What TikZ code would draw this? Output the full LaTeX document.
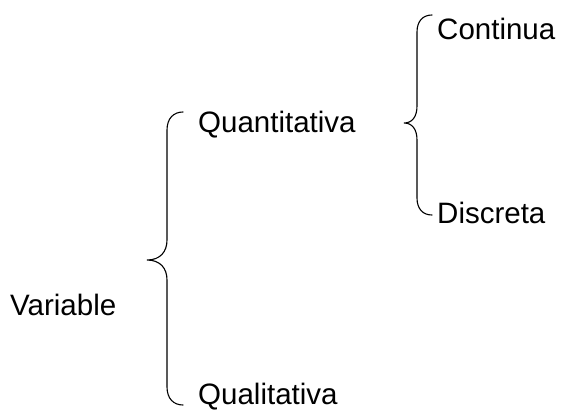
\documentclass[tikz,border=0pt]{standalone}
\usepackage{fontspec}
\setmainfont{Liberation Sans}
\begin{document}
\begin{tikzpicture}[x=1pt,y=-1pt,
  lbl/.style={anchor=west,inner sep=0pt,font=\fontsize{29.5}{30}\selectfont},
  brace/.style={line width=1.1pt,line cap=round}]
\useasboundingbox (0,0) rectangle (567,410);
\node[lbl] (var) at (10,305) {Variable};
\node[lbl] (quan) at (198,125) {Quantitativa};
\node[lbl] (qual) at (198,397) {Qualitativa};
\node[lbl] (cont) at (437,29) {Continua};
\node[lbl] (disc) at (437,213) {Discreta};
% brace 1
\draw[brace] (183,112) .. controls (174,112) and (167,118) .. (167,130) -- (167,240)
  .. controls (167,252) and (160,260) .. (147,260) .. controls (160,260) and (167,268) .. (167,280)
  -- (167,387) .. controls (167,399) and (174,405) .. (183,405);
% brace 2
\draw[brace] (432,15) .. controls (423,15) and (417,21) .. (417,32) -- (417,106)
  .. controls (417,117) and (412,123) .. (404,123) .. controls (412,123) and (417,129) .. (417,140)
  -- (417,198) .. controls (417,209) and (423,215) .. (432,215);
\end{tikzpicture}
\end{document}
